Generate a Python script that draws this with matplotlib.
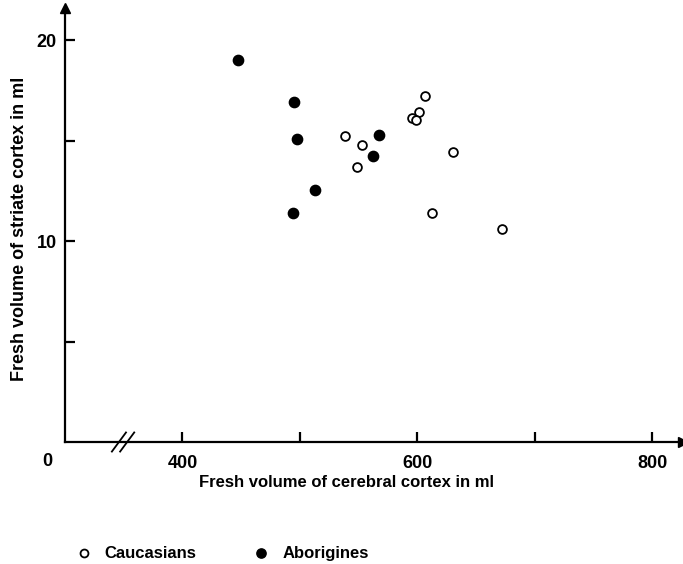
import matplotlib
matplotlib.use('Agg')
import matplotlib.pyplot as plt

# Caucasians (open circles)
cauc_cortex = [538.7, 552.6, 549.0, 606.6, 601.6, 595.3, 598.7, 629.9, 612.3, 672.0]
cauc_striate = [15.21, 14.78, 13.70, 17.23, 16.40, 16.13, 16.02, 14.44, 11.41, 10.58]

# Aborigines (filled circles)
abor_cortex = [447.6, 495.0, 497.7, 513.0, 494.0, 567.0, 562.0]
abor_striate = [19.0, 16.9, 15.07, 12.54, 11.4, 15.27, 14.23]

x_ticks = [400, 500, 600, 700, 800]
x_tick_labels = ['400', '', '600', '', '800']
y_ticks = [5, 10, 15, 20]
y_tick_labels = ['', '10', '', '20']

plt.rcParams['font.family'] = ['Liberation Sans', 'DejaVu Sans']
TICK_FONT = dict(fontsize=13, fontweight='bold')

fig = plt.figure(figsize=(6.83, 5.64), dpi=100)
ax = fig.add_axes([0.095, 0.2163, 0.905, 0.7695])

ax.scatter(cauc_cortex, cauc_striate, s=40, facecolors='white',
           edgecolors='black', linewidths=1.3, zorder=3, label='Caucasians')
ax.scatter(abor_cortex, abor_striate, s=55, color='black', zorder=3,
           label='Aborigines')

ax.set_xlim(300, 826)
ax.set_ylim(0, 21.6)
for side in ['top', 'right']:
    ax.spines[side].set_visible(False)
for side in ['left', 'bottom']:
    ax.spines[side].set_linewidth(1.6)

ax.set_xticks(x_ticks)
ax.set_xticklabels(x_tick_labels, **TICK_FONT)
ax.set_yticks(y_ticks)
ax.set_yticklabels(y_tick_labels, **TICK_FONT)
ax.tick_params(direction='in', length=7, width=1.6)
ax.tick_params(axis='x', pad=9)
ax.tick_params(axis='y', pad=6)

# arrow heads at the axis ends
ax.plot(1, 0, '>', color='black', markersize=7, transform=ax.transAxes,
        clip_on=False)
ax.plot(0, 1, '^', color='black', markersize=7, transform=ax.transAxes,
        clip_on=False)

# "0" at the origin
ax.text(-0.028, -0.045, '0', transform=ax.transAxes, ha='center',
        va='center', **TICK_FONT)

# axis break //
trans = ax.get_xaxis_transform()
for dx in (-4, 3):
    ax.plot([350 + dx - 6, 350 + dx + 6], [-0.022, 0.022], color='black',
            lw=1.3, transform=trans, clip_on=False)

ax.set_xlabel('Fresh volume of cerebral cortex in ml', fontsize=12,
              fontweight='bold')
ax.set_ylabel('Fresh volume of striate cortex in ml', fontsize=13,
              fontweight='bold')
ax.yaxis.set_label_coords(-0.060, 0.49)
ax.xaxis.set_label_coords(0.456, -0.075)

fig.legend(loc='center left', bbox_to_anchor=(0.098, 0.0195), ncol=2,
           frameon=False, prop=dict(size=12, weight='bold'), borderpad=0,
           handlelength=1, columnspacing=3.4, handletextpad=0.76,
           markerscale=0.9)

fig.savefig('out.png', dpi=100)
